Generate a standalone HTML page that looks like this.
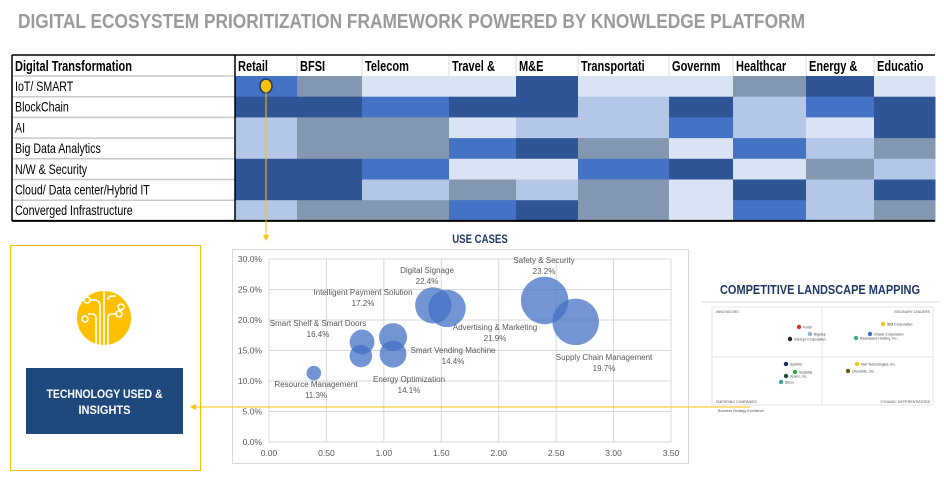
<!DOCTYPE html>
<html><head><meta charset="utf-8"><style>
body{margin:0;background:#fff;width:944px;height:486px;overflow:hidden}
svg{display:block}
text{font-family:"Liberation Sans Narrow","Liberation Sans",sans-serif}
</style></head><body>
<svg id="s" width="944" height="486" xmlns="http://www.w3.org/2000/svg">
<text x="18" y="28" font-size="20" font-weight="bold" fill="#9a9a9a" textLength="787" lengthAdjust="spacingAndGlyphs">DIGITAL ECOSYSTEM PRIORITIZATION FRAMEWORK POWERED BY KNOWLEDGE PLATFORM</text>
<g id="heat"></g>
<g id="bub"></g>
<rect x="10.5" y="245.5" width="190" height="225" fill="none" stroke="#FFC000" stroke-width="1"/>
<g>
<circle cx="104" cy="318" r="27" fill="#FFC000"/>
<g stroke="#fff" stroke-width="1.6" fill="none">
<path d="M100 345 V306 q0-6-6-6 h-4"/><circle cx="87" cy="300" r="3"/>
<path d="M104 345 V291"/>
<path d="M108 345 V318 q0-4 4-4 h4"/><circle cx="119" cy="314" r="3"/>
<path d="M96 345 V318 q0-4-4-4 h-4"/><circle cx="85" cy="319" r="3"/>
<path d="M108 300 q0-4 4-4 h4"/><circle cx="121" cy="307" r="3"/>
</g></g>
<rect x="26" y="368" width="157" height="66" fill="#1F497D"/>
<text x="104.5" y="398" text-anchor="middle" font-size="12" font-weight="bold" fill="#fff" textLength="116" lengthAdjust="spacingAndGlyphs">TECHNOLOGY USED &amp;</text>
<text x="104.5" y="414" text-anchor="middle" font-size="12" font-weight="bold" fill="#fff" textLength="52" lengthAdjust="spacingAndGlyphs">INSIGHTS</text>
<text x="820" y="294" text-anchor="middle" font-size="13" font-weight="bold" fill="#1F3864" textLength="200" lengthAdjust="spacingAndGlyphs">COMPETITIVE LANDSCAPE MAPPING</text>
<g id="comp">
<line x1="702" y1="302" x2="940" y2="302" stroke="#ddd"/>
<rect x="712" y="307" width="221" height="98" fill="none" stroke="#e6e6e6"/>
<line x1="822" y1="307" x2="822" y2="405" stroke="#e6e6e6"/>
<line x1="712" y1="357" x2="933" y2="357" stroke="#e6e6e6"/>
<text x="716" y="313" font-size="3.5" fill="#555">INNOVATORS</text>
<text x="930" y="313" font-size="3.5" fill="#555" text-anchor="end">VISIONARY LEADERS</text>
<text x="716" y="403" font-size="3.5" fill="#555">EMERGING COMPANIES</text>
<text x="930" y="403" font-size="3.5" fill="#555" text-anchor="end">DYNAMIC DIFFERENTIATORS</text>
<text x="718" y="412" font-size="3.5" fill="#555">Business Strategy Excellence</text>
</g>
<g>
<line x1="266" y1="92" x2="266" y2="236" stroke="#FFC000" stroke-width="1"/>
<path d="M263 235 L269 235 L266 241 Z" fill="#FFC000"/>
<line x1="196" y1="407" x2="750" y2="407" stroke="#FFC000" stroke-width="1"/>
<path d="M190 407 L196 404 L196 410 Z" fill="#FFC000"/>
</g>
</svg>
<script>
const NS="http://www.w3.org/2000/svg";
function mk(p,t,a){const e=document.createElementNS(NS,t);for(const k in a)e.setAttribute(k,a[k]);p.appendChild(e);return e;}
function cond(e,f){const w=e.getComputedTextLength();e.setAttribute('textLength',(w*f).toFixed(1));e.setAttribute('lengthAdjust','spacingAndGlyphs');}
const industries=["Retail","BFSI","Telecom","Travel &","M&E","Transportati","Governm","Healthcar","Energy &","Educatio"];
const technologies=["IoT/ SMART","BlockChain","AI","Big Data Analytics","N/W & Security","Cloud/ Data center/Hybrid IT","Converged Infrastructure"];
const levels=[
[3,1,4,4,2,4,4,1,2,4],
[2,2,3,2,2,5,2,5,3,2],
[5,1,1,4,5,5,3,5,4,2],
[5,1,1,3,2,1,4,3,5,1],
[2,2,3,4,4,3,2,4,1,5],
[2,2,5,1,5,1,4,2,5,2],
[5,1,1,3,2,1,4,3,5,1]];
const levelColors={1:"#8497B0",2:"#2F5597",3:"#4472C4",4:"#DAE3F3",5:"#B4C7E7"};
const colEdges=[12,235,297,362,449,516,578,669,733,806,874,935];
const H=document.getElementById('heat');
const top0=55,hh=21,rh=20.7;
technologies.forEach((t,r)=>{
  const y=top0+hh+r*rh;
  industries.forEach((ind,c)=>{
    const cell=mk(H,'rect',{x:colEdges[c+1],y:y,width:colEdges[c+2]-colEdges[c+1]+0.5,height:rh+0.5,fill:levelColors[levels[r][c]]});
    
    
  });
  mk(H,'line',{x1:12,x2:235,y1:y,y2:y,stroke:'#c8c8c8','stroke-width':1.5});
  const lb=mk(H,'text',{x:15,y:y+15,'font-size':14,fill:'#000'});lb.textContent=t;
  
  
  cond(lb,0.76);
});
industries.forEach((ind,c)=>{
  mk(H,'line',{x1:colEdges[c+1],x2:colEdges[c+1],y1:top0,y2:top0+hh,stroke:'#ddd'});
  const tx=mk(H,'text',{x:colEdges[c+1]+3,y:top0+16,'font-size':14.5,'font-weight':'bold',fill:'#000'});tx.textContent=ind;
  
  
  cond(tx,0.76);
});
const hd=mk(H,'text',{x:15,y:top0+16,'font-size':14.5,'font-weight':'bold',fill:'#000'});hd.textContent="Digital Transformation";
cond(hd,0.76);
mk(H,'line',{x1:12,x2:935,y1:top0,y2:top0,stroke:'#000','stroke-width':1.5});
mk(H,'line',{x1:12,x2:935,y1:top0+hh+7*rh,y2:top0+hh+7*rh,stroke:'#000','stroke-width':2});
mk(H,'line',{x1:12,x2:12,y1:top0,y2:top0+hh+7*rh,stroke:'#000','stroke-width':1.5});
mk(H,'line',{x1:235,x2:235,y1:top0,y2:top0+hh+7*rh,stroke:'#000','stroke-width':1.5});
const dot=mk(H,'ellipse',{cx:266,cy:86,rx:6,ry:7,fill:'#FFC000',stroke:'#1F3864','stroke-width':1.5});



const useCases=["Resource Management","Smart Shelf & Smart Doors","Energy Optimization","Intelligent Payment Solution","Smart Vending Machine","Digital Signage","Advertising & Marketing","Safety & Security","Supply Chain Management"];
const xVals=[0.39,0.81,0.80,1.08,1.08,1.43,1.55,2.40,2.67];
const yVals=[11.3,16.4,14.1,17.2,14.4,22.4,21.9,23.2,19.7];
const sizes=[0.5,1.45,1.2,1.85,1.7,3.1,3.3,5.3,5.1];
const xTicks=[0,0.5,1,1.5,2,2.5,3,3.5];
const yTicks=[0,5,10,15,20,25,30];
const labelPos=[[316,387],[318,326],[409,382],[363,295],[453,353],[427,273],[495,330],[544,263],[604,360]];
const B=document.getElementById('bub');
const X=v=>269+v*(671-269)/3.5, Y=v=>442-v*(442-259)/30, R=s=>Math.sqrt(s)*10.3;
mk(B,'rect',{x:232.5,y:249.5,width:456,height:214,fill:'#fff',stroke:'#d9d9d9'});
const tt=mk(B,'text',{x:480,y:243,'text-anchor':'middle','font-size':12,'font-weight':'bold',fill:'#1F3864'});tt.textContent="USE CASES";
cond(tt,0.8);
yTicks.forEach(v=>{mk(B,'line',{x1:269,x2:671,y1:Y(v),y2:Y(v),stroke:'#d9d9d9'});
  const t=mk(B,'text',{x:262,y:Y(v)+3,'text-anchor':'end','font-size':8.5,fill:'#595959','font-family':'Liberation Sans'});t.textContent=v.toFixed(1)+"%";
  
  });
xTicks.forEach(v=>{mk(B,'line',{x1:X(v),x2:X(v),y1:259,y2:442,stroke:'#d9d9d9'});
  const t=mk(B,'text',{x:X(v),y:456,'text-anchor':'middle','font-size':8.5,fill:'#595959','font-family':'Liberation Sans'});t.textContent=v.toFixed(2);
  
  });
useCases.forEach((n,i)=>{
  const c=mk(B,'circle',{cx:X(xVals[i]),cy:Y(yVals[i]),r:R(sizes[i]),fill:'#4472C4','fill-opacity':0.75});
  
  
});
useCases.forEach((n,i)=>{
  const [lx,ly]=labelPos[i];
  const t1=mk(B,'text',{x:lx,y:ly,'text-anchor':'middle','font-size':8,fill:'#595959','font-family':'Liberation Sans'});t1.textContent=n;
  
  
  const t2=mk(B,'text',{x:lx,y:ly+11,'text-anchor':'middle','font-size':8,fill:'#595959','font-family':'Liberation Sans'});t2.textContent=yVals[i].toFixed(1)+"%";
  
  
});
const compNames=["Fortel","Bigstep","Intersys Corporation","IBM Corporation","Oracle Corporation","Rackspace Hosting, Inc.","Symbid","Scalable","Xpanz, Inc.","Stuso","Dell Technologies, Inc.","Cloudistic, Inc."];
const compX=[799,810,790,883,870,856,786,795,786,781,857,848];
const compY=[327,334,339,324,334,338,364,372,376,382,364,371];
const compCol=["#c0392b","#8fb4d9","#2c1a2e","#f5c518","#3d6fb6","#3aa890","#1a2a5e","#2eaa4a","#1d4d36","#3aa890","#f5c518","#6b5a10"];
const C=document.getElementById('comp');
compNames.forEach((n,i)=>{
  const d=mk(C,'circle',{cx:compX[i],cy:compY[i],r:2.2,fill:compCol[i]});
  
  
  const t=mk(C,'text',{x:compX[i]+4,y:compY[i]+1.5,'font-size':3.5,fill:'#444'});t.textContent=n;
});
</script>
</body></html>
